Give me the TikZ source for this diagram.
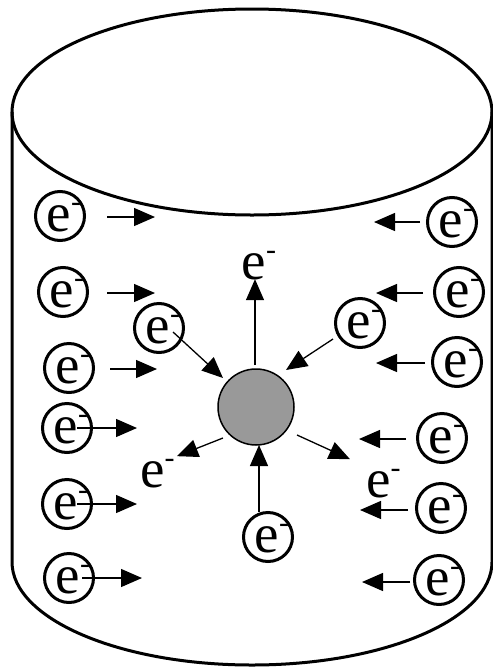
\documentclass[tikz,border=0pt]{standalone}
\usepackage{fontspec}
\setmainfont{Liberation Serif}
\usetikzlibrary{arrows.meta,calc}
\newcommand{\el}{e\raisebox{20pt}{\fontsize{30}{30}\selectfont -}}
\tikzset{
  elec/.style={circle,draw,line width=3pt,minimum size=49pt,inner sep=0pt},
  etext/.style={anchor=base,inner sep=0pt,font=\fontsize{55}{60}\selectfont},
  arr/.style={line width=1.3pt,-{Triangle[length=21pt,width=18pt]}},
  cyl/.style={line width=3pt},
}
\begin{document}
\begin{tikzpicture}[x=1pt,y=-1pt]
\useasboundingbox (0,0) rectangle (493,670);
% cylinder
\draw[cyl] (252,112) ellipse [x radius=240, y radius=103];
\draw[cyl] (12,112) -- (12,562) arc[start angle=180,end angle=360,x radius=240,y radius=-103] -- (492,112);
% core
\node[circle,draw,line width=1.5pt,fill={rgb,255:red,153;green,153;blue,153},minimum size=76pt,inner sep=0pt] (core) at (256,407) {};
% electrons
\foreach \n/\x/\y in {L1/60/216,L2/63/292,L3/69/368,L4/67/428,L5/67/504,L6/69/578,
                      R1/452/222,R2/459/292,R3/457/362,R4/442/438,R5/441/508,R6/439/580,
                      IL/159/328,IR/360/323,B/268/537}{
  \node[elec] (\n) at (\x,\y) {};
  \node[etext] (\n t) at ($(\n)+(4,15)$) {\el};
}
% free labels
\node[etext] (top) at (259,279) {\el};
\node[etext] (ll) at (157.5,487) {\el};
\node[etext] (lr) at (383.5,497) {\el};
% left arrows
\draw[arr] ($(L1)+(47,1)$) -- ++(48,0);
\draw[arr] ($(L2)+(44,1)$) -- ++(48,0);
\draw[arr] ($(L3)+(41,1)$) -- ++(47,0);
\draw[arr] ($(L4)+(10,0)$) -- ++(60,0);
\draw[arr] ($(L5)+(10,0)$) -- ++(60,0);
\draw[arr] ($(L6)+(13,0)$) -- ++(60,0);
% right arrows
\draw[arr] ($(R1)+(-32,0)$) -- ++(-46,0);
\draw[arr] ($(R2)+(-36,1)$) -- ++(-47,0);
\draw[arr] ($(R3)+(-32,1)$) -- ++(-49,0);
\draw[arr] ($(R4)+(-36,1)$) -- ++(-47,0);
\draw[arr] ($(R5)+(-33,2)$) -- ++(-48,0);
\draw[arr] ($(R6)+(-29,2)$) -- ++(-48,0);
% inner arrows
\draw[arr] ($(IL)+(14,4)$) -- ($(core)+(-33,-29)$);
\draw[arr] ($(IR)+(-27,16)$) -- ($(core)+(30,-37)$);
\draw[arr] ($(B)+(-9,-25)$) -- ($(core)+(3,38)$);
\draw[arr] ($(core)+(-1,-42)$) -- ($(top)+(-4,14)$);
\draw[arr] ($(core)+(-33,31)$) -- ($(ll)+(19.5,-17)$);
\draw[arr] ($(core)+(41,28)$) -- ($(lr)+(-33.5,-24)$);
\end{tikzpicture}
\end{document}
